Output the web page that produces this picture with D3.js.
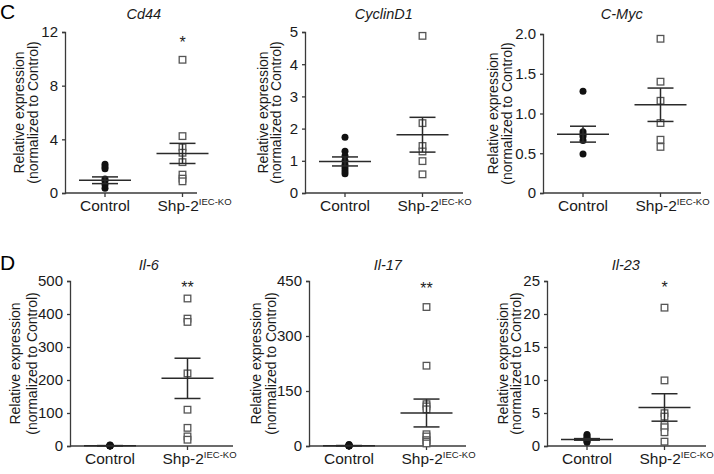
<!DOCTYPE html>
<html>
<head>
<meta charset="utf-8">
<script src="https://d3js.org/d3.v7.min.js"></script>
<style>
  body { margin: 0; background: #fff; }
  svg { display: block; font-family: "Liberation Sans", Arial, sans-serif; }
</style>
</head>
<body>
<svg id="chart" width="714" height="474"></svg>
<script>
// data
var genes = ["Cd44", "CyclinD1", "C-Myc", "Il-6", "Il-17", "Il-23"];
var groups = ["Control", "Shp-2"];
var controlValues = [
  [2.15, 1.95, 1.8, 1.05, 0.9, 0.62, 0.35],
  [1.73, 1.3, 1.15, 1.0, 0.88, 0.78, 0.68, 0.6],
  [1.28, 0.77, 0.74, 0.71, 0.66, 0.49],
  [3, 2, 1.5, 1, 0.6, 0.4, 0.3],
  [4, 2.5, 1.5, 1, 0.7, 0.4, 0.2],
  [1.75, 1.5, 1.25, 1.05, 0.9, 0.75, 0.55]
];
var knockoutValues = [
  [9.93, 4.24, 3.4, 3.0, 2.3, 1.37, 1.07, 0.87],
  [4.88, 2.17, 1.46, 1.29, 0.99, 0.58],
  [1.94, 1.40, 1.16, 0.88, 0.67, 0.58],
  [447, 386, 376, 220, 110, 55, 29, 19],
  [379, 219, 114, 108, 100, 32, 26, 16, 12, 7],
  [20.96, 9.94, 4.97, 4.46, 3.2, 2.84, 2.08, 0.66]
];
var means = [[0.95, 2.95], [0.98, 1.81], [0.74, 1.11], [1, 205], [1, 90], [1.0, 5.84]];
var sems = [[0.25, 0.75], [0.14, 0.54], [0.10, 0.21], [0.3, 61], [0.3, 38], [0.12, 2.08]];
var yMax = [12, 5, 2, 500, 450, 25];
var yTicks = [
  [0, 4, 8, 12],
  [0, 1, 2, 3, 4, 5],
  [0, 0.5, 1.0, 1.5, 2.0],
  [0, 100, 200, 300, 400, 500],
  [0, 150, 300, 450],
  [0, 5, 10, 15, 20, 25]
];
var stars = ["*", "", "", "**", "**", "*"];
var starValues = [11.5, 0, 0, 490, 440, 24.5];

// layout of each panel
var panels = [
  {x0: 65, x1: 197, top: 32, bottom: 193, titleY: 19, l1: -46, l2: -32},
  {x0: 305, x1: 463, top: 32, bottom: 193, titleY: 19, l1: -42, l2: -29},
  {x0: 543, x1: 701, top: 34, bottom: 193, titleY: 19, l1: -50, l2: -36},
  {x0: 70, x1: 233, top: 281, bottom: 446, titleY: 270, l1: -55, l2: -38},
  {x0: 309, x1: 466, top: 281, bottom: 446, titleY: 270, l1: -53, l2: -38},
  {x0: 547, x1: 706, top: 281, bottom: 446, titleY: 270, l1: -44, l2: -31}
];

var svg = d3.select("#chart");
var axisColor = "#3a3a3a";

svg.append("text").attr("x", 0).attr("y", 19).attr("font-size", 21).text("C");
svg.append("text").attr("x", 0).attr("y", 270).attr("font-size", 21).text("D");

genes.forEach(function(gene, i) {
  var p = panels[i];
  var g = svg.append("g");

  var y = d3.scaleLinear().domain([0, yMax[i]]).range([p.bottom, p.top]);
  var x = d3.scalePoint().domain(groups).range([p.x0 + 40, p.x0 + 117.5]);

  var fmt = function(d) { return d == 0 ? "0" : (i == 2 ? d3.format(".1f")(d) : d3.format("d")(d)); };
  var yAxis = d3.axisLeft(y).tickValues(yTicks[i]).tickSize(3).tickPadding(4).tickFormat(fmt);
  var ya = g.append("g").attr("transform", "translate(" + p.x0 + ",0)").call(yAxis);
  ya.select(".domain").attr("stroke", axisColor).attr("stroke-width", 1.3);
  ya.selectAll(".tick line").attr("stroke", axisColor).attr("stroke-width", 1.3);
  ya.selectAll("text").attr("font-size", 15).attr("fill", "#1a1a1a").attr("font-family", "Liberation Sans, Arial, sans-serif");

  // x axis line with group ticks
  g.append("line")
    .attr("x1", p.x0).attr("x2", p.x1)
    .attr("y1", p.bottom).attr("y2", p.bottom)
    .attr("stroke", axisColor).attr("stroke-width", 1.3);
  groups.forEach(function(grp) {
    g.append("line")
      .attr("x1", x(grp)).attr("x2", x(grp))
      .attr("y1", p.bottom).attr("y2", p.bottom + 4)
      .attr("stroke", axisColor).attr("stroke-width", 1.3);
  });

  g.append("text")
    .attr("x", x("Control")).attr("y", p.bottom + 18)
    .attr("text-anchor", "middle").attr("font-size", 15.5).attr("fill", "#1a1a1a")
    .text("Control");
  var ko = g.append("text")
    .attr("x", x("Shp-2") + 12).attr("y", p.bottom + 18)
    .attr("text-anchor", "middle").attr("font-size", 15.5).attr("fill", "#1a1a1a");
  ko.append("tspan").text("Shp-2");
  ko.append("tspan").attr("font-size", 9.5).attr("dy", -6).text("IEC-KO");

  // y label
  var cy = (p.top + p.bottom) / 2;
  g.append("text")
    .attr("transform", "translate(" + (p.x0 + p.l1) + "," + cy + ") rotate(-90)")
    .attr("text-anchor", "middle").attr("dominant-baseline", "central")
    .attr("font-size", 14).attr("fill", "#1a1a1a")
    .text("Relative expression");
  g.append("text")
    .attr("transform", "translate(" + (p.x0 + p.l2) + "," + cy + ") rotate(-90)")
    .attr("text-anchor", "middle").attr("dominant-baseline", "central")
    .attr("font-size", 14).attr("fill", "#1a1a1a")
    .text("(normalized to Control)");

  // title
  g.append("text")
    .attr("x", (x("Control") + x("Shp-2")) / 2).attr("y", p.titleY)
    .attr("text-anchor", "middle").attr("font-size", 14.5).attr("font-style", "italic")
    .attr("fill", "#1a1a1a")
    .text(gene);

  // points
  g.selectAll(".ctrl").data(controlValues[i]).enter().append("circle")
    .attr("cx", x("Control")).attr("cy", function(d) { return y(d); })
    .attr("r", 3.5).attr("fill", "#111");
  g.selectAll(".ko").data(knockoutValues[i]).enter().append("rect")
    .attr("x", x("Shp-2") - 3.3).attr("y", function(d) { return y(d) - 3.3; })
    .attr("width", 6.6).attr("height", 6.6)
    .attr("fill", "#fff").attr("stroke", "#555").attr("stroke-width", 1.3);

  // mean and sem
  groups.forEach(function(grp, k) {
    var cx = x(grp), m = means[i][k], s = sems[i][k];
    g.append("line").attr("x1", cx - 26).attr("x2", cx + 26)
      .attr("y1", y(m)).attr("y2", y(m))
      .attr("stroke", "#2a2a2a").attr("stroke-width", 1.5);
    g.append("line").attr("x1", cx).attr("x2", cx)
      .attr("y1", y(m - s)).attr("y2", y(m + s))
      .attr("stroke", "#2a2a2a").attr("stroke-width", 1.5);
    [m - s, m + s].forEach(function(v) {
      g.append("line").attr("x1", cx - 13).attr("x2", cx + 13)
        .attr("y1", y(v)).attr("y2", y(v))
        .attr("stroke", "#2a2a2a").attr("stroke-width", 1.5);
    });
  });

  if (stars[i]) {
    g.append("text")
      .attr("x", x("Shp-2")).attr("y", y(starValues[i]) + 9)
      .attr("text-anchor", "middle").attr("font-size", 16).attr("fill", "#222")
      .text(stars[i]);
  }
});
</script>
</body>
</html>
